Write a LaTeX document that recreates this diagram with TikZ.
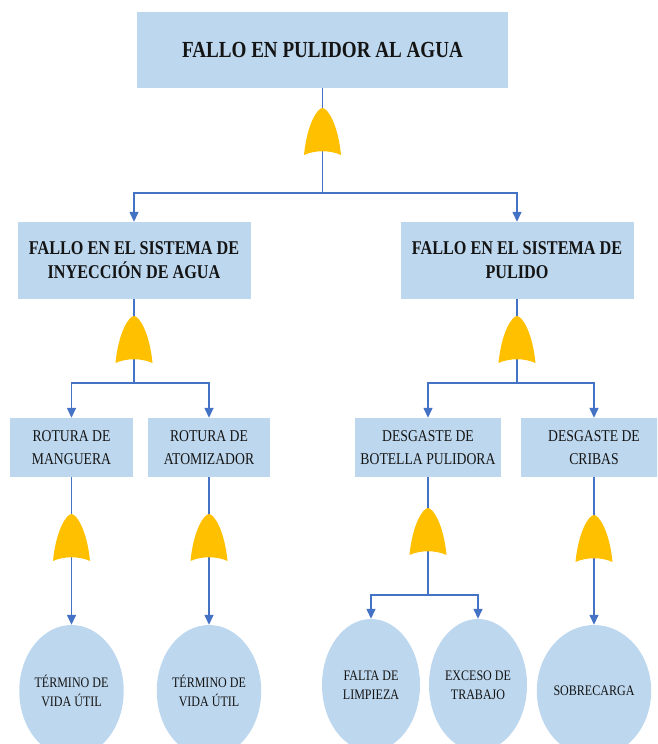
\documentclass[tikz,border=0pt]{standalone}
\usepackage{fontspec}
\setmainfont{Liberation Serif}[FakeStretch=0.83]
\usetikzlibrary{arrows.meta,shapes.geometric}
\definecolor{boxfill}{HTML}{BDD7EE}
\definecolor{gatefill}{HTML}{FFC000}
\definecolor{linkcol}{HTML}{4472C4}

\begin{document}
\begin{tikzpicture}[x=1pt,y=-1pt,
  event/.style={fill=boxfill, inner sep=0pt, align=center, text=black!92},
  toplevel/.style={event, minimum width=371pt, minimum height=76pt,
    font=\fontsize{23}{28}\selectfont\bfseries},
  midlevel/.style={event, minimum width=233pt, minimum height=77pt,
    font=\fontsize{19.5}{24}\selectfont\bfseries},
  lowlevel/.style={event, minimum height=59pt,
    font=\fontsize{16.5}{22.5}\selectfont},
  basic/.style={ellipse, fill=boxfill, inner sep=0pt, minimum width=98pt,
    minimum height=132pt, align=center, text=black!92,
    font=\fontsize{14.5}{19}\selectfont},
  link/.style={draw=linkcol, line width=1.4pt},
  arrow/.style={link, -{Triangle[width=9pt,length=10pt]}},
  orgate/.pic={
    \fill[gatefill] (0,-1) .. controls (5,-1) and (15.5,15) .. (18.5,46)
      .. controls (8,41) and (-8,41) .. (-18.5,46)
      .. controls (-15.5,15) and (-5,-1) .. (0,-1) -- cycle;
  }
]
\useasboundingbox (0,0) rectangle (657,744);
\clip (0,0) rectangle (657,744);

% events
\node[toplevel] (top) at (322.5,50) {FALLO EN PULIDOR AL AGUA};
\node[midlevel] (inj) at (134,260.5) {FALLO EN EL SISTEMA DE\\INYECCIÓN DE AGUA};
\node[midlevel] (pul) at (517,260.5) {FALLO EN EL SISTEMA DE\\PULIDO};
\node[lowlevel, minimum width=123pt] (mang) at (71.5,447.5) {ROTURA DE\\MANGUERA};
\node[lowlevel, minimum width=122pt] (atom) at (209,447.5) {ROTURA DE\\ATOMIZADOR};
\node[lowlevel, minimum width=146pt] (bot) at (428,447.5) {DESGASTE DE\\BOTELLA PULIDORA};
\node[lowlevel, minimum width=146pt] (crib) at (594,447.5) {DESGASTE DE\\CRIBAS};

% basic events
\node[basic] (vid1) at (71.5,691) {TÉRMINO DE\\VIDA ÚTIL};
\node[basic] (vid2) at (209,691) {TÉRMINO DE\\VIDA ÚTIL};
\node[basic] (limp) at (371,685) {FALTA DE\\LIMPIEZA};
\node[basic] (trab) at (478,685) {EXCESO DE\\TRABAJO};
\node[basic] (sobre) at (594,691) {SOBRECARGA};

% gate tops / gate outputs
\coordinate (g0) at (322.5,109);  \coordinate (g0o) at (322.5,148);
\coordinate (gI) at (134,317);    \coordinate (gIo) at (134,356);
\coordinate (gP) at (517,317);    \coordinate (gPo) at (517,356);
\coordinate (gM) at (71.5,515);   \coordinate (gMo) at (71.5,554);
\coordinate (gA) at (209,515);    \coordinate (gAo) at (209,554);
\coordinate (gB) at (428,509);    \coordinate (gBo) at (428,548);
\coordinate (gC) at (594,516);    \coordinate (gCo) at (594,555);

% branch points
\coordinate (j0) at (322.5,193);
\coordinate (jI) at (134,383);
\coordinate (jP) at (517,383);
\coordinate (jB) at (428,595);

% connectors
\draw[link] (top.south) -- (g0);
\draw[link] (g0o) -- (j0);
\draw[arrow] (j0) -| (inj.north);
\draw[arrow] (j0) -| (pul.north);

\draw[link] (inj.south) -- (gI);
\draw[link] (gIo) -- (jI);
\draw[arrow] (jI) -| (mang.north);
\draw[arrow] (jI) -| (atom.north);

\draw[link] (pul.south) -- (gP);
\draw[link] (gPo) -- (jP);
\draw[arrow] (jP) -| (bot.north);
\draw[arrow] (jP) -| (crib.north);

\draw[link] (mang.south) -- (gM);
\draw[arrow] (gMo) -- (vid1.north);
\draw[link] (atom.south) -- (gA);
\draw[arrow] (gAo) -- (vid2.north);

\draw[link] (bot.south) -- (gB);
\draw[link] (gBo) -- (jB);
\draw[arrow] (jB) -| (limp.north);
\draw[arrow] (jB) -| (trab.north);

\draw[link] (crib.south) -- (gC);
\draw[arrow] (gCo) -- (sobre.north);

% OR gates
\foreach \g in {g0,gI,gP,gM,gA,gB,gC}
  \pic at (\g) {orgate};
\end{tikzpicture}
\end{document}
